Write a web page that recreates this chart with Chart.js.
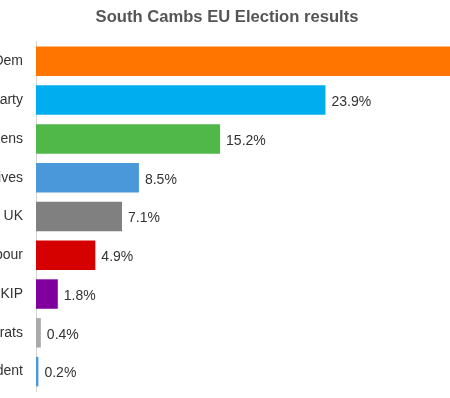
<!DOCTYPE html>
<html>
<head>
<meta charset="utf-8">
<script src="https://cdn.jsdelivr.net/npm/chart.js@4"></script>
<style>
  html, body { margin: 0; padding: 0; background: #fff; }
  #wrap { position: relative; width: 450px; height: 398px; overflow: hidden; }
  #chart { position: absolute; left: -64px; top: 0; }
</style>
</head>
<body>
<div id="wrap"><canvas id="chart" width="582" height="398"></canvas></div>
<script>
// Results data
var parties = ['Lib Dem', 'Brexit Party', 'Greens', 'Conservatives', 'Change UK',
               'Labour', 'UKIP', 'English Democrats', 'Independent'];
var shares = [38.0, 23.9, 15.2, 8.5, 7.1, 4.9, 1.8, 0.4, 0.2];
var partyColours = ['#FF7500', '#00ADEF', '#50B848', '#4A97DA', '#808080',
                    '#D50000', '#80009E', '#AAAAAA', '#4A97DA'];

var FONT = "'Liberation Sans', Arial, sans-serif";

// Draw the percentage next to each bar
var valueLabels = {
    id: 'valueLabels',
    afterDatasetsDraw: function(chart) {
        var ctx = chart.ctx;
        var meta = chart.getDatasetMeta(0);
        ctx.save();
        ctx.font = '14px ' + FONT;
        ctx.fillStyle = '#333';
        ctx.textAlign = 'left';
        ctx.textBaseline = 'middle';
        meta.data.forEach(function(bar, i) {
            ctx.fillText(shares[i].toFixed(1) + '%', bar.x + 6, bar.y + 2);
        });
        ctx.restore();
    }
};

new Chart(document.getElementById('chart'), {
    type: 'bar',
    data: {
        labels: parties,
        datasets: [{
            data: shares,
            backgroundColor: partyColours,
            barPercentage: 0.76,
            categoryPercentage: 1
        }]
    },
    options: {
        indexAxis: 'y',
        responsive: false,
        animation: false,
        layout: { padding: { bottom: 7 } },
        plugins: {
            legend: { display: false },
            tooltip: { enabled: false },
            title: {
                display: true,
                text: 'South Cambs EU Election results',
                color: '#555',
                font: { family: FONT, size: 16.6, weight: 'bold' },
                padding: { top: 7, bottom: 15 }
            }
        },
        scales: {
            x: {
                display: false,
                min: 0,
                max: 39.8
            },
            y: {
                afterFit: function(axis) {
                    axis.width = 100;
                    axis.paddingTop = 0;
                    axis.paddingBottom = 0;
                },
                grid: { display: false, drawTicks: false },
                border: { display: true, color: '#d4d4d4', width: 1 },
                ticks: {
                    color: '#333',
                    padding: 13,
                    font: { family: FONT, size: 14 }
                }
            }
        }
    },
    plugins: [valueLabels]
});
</script>
</body>
</html>
